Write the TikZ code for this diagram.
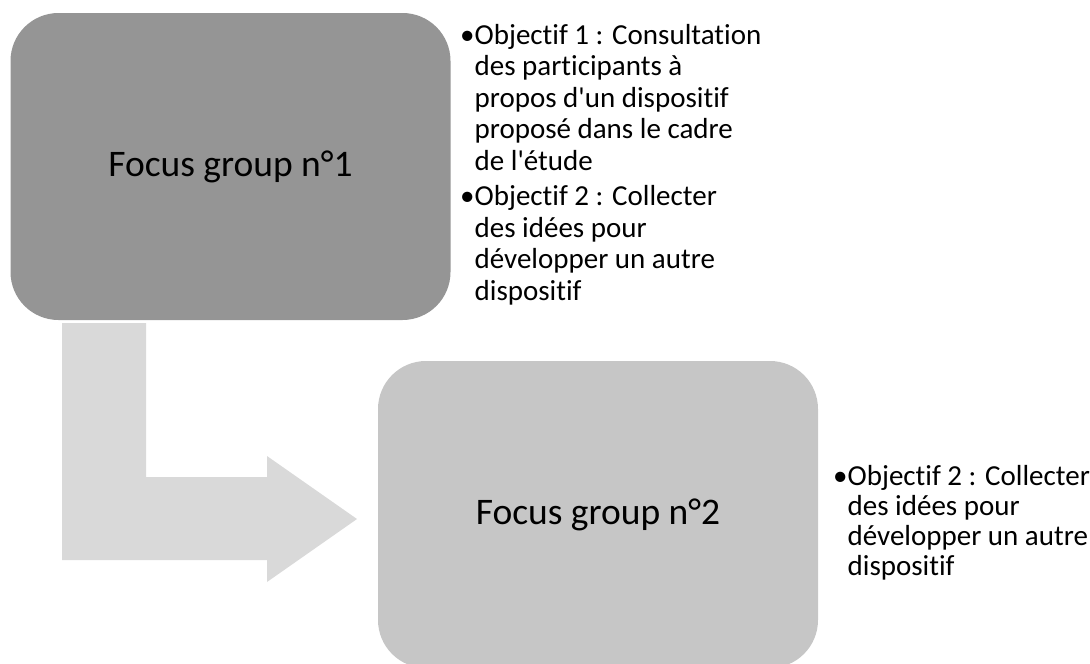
\documentclass[tikz,border=0pt]{standalone}
\usepackage{fontspec}
\setmainfont{Carlito}[Ligatures=NoCommon]
\definecolor{darkbox}{RGB}{149,149,149}
\definecolor{lightbox}{RGB}{198,198,198}
\definecolor{arrowgray}{RGB}{217,217,217}
% straight apostrophe, set as a glyph so no text mapping curls it
\newcommand{\apos}{\XeTeXglyph\XeTeXcharglyph"0027\relax}
\begin{document}
\begin{tikzpicture}[x=1pt,y=-1pt,
  fgbox/.style={rectangle, rounded corners=48pt, minimum width=440pt,
    minimum height=307pt, inner sep=0pt,
    font=\fontsize{37.5}{45}\selectfont},
  objtext/.style={anchor=base west, inner sep=0pt,
    font=\fontsize{29}{30}\selectfont}]
\useasboundingbox (0,0) rectangle (1090,664);

% the two focus-group boxes
\node[fgbox, fill=darkbox] (fg1) at (230.5,166.5) {Focus group n°1};
\node[fgbox, fill=lightbox] (fg2) at (598,514.5) {Focus group n°2};

% bent arrow leading from the first box down to the second
\fill[arrowgray] (62,323) -- (146,323) -- (146,477) -- (267,477)
  -- (267,456) -- (357,519) -- (267,582) -- (267,560) -- (62,560) -- cycle;

% objectives listed beside each box (bullet column + hanging text)
\renewcommand{\arraystretch}{1}
\node[objtext, font=\fontsize{29}{31.5}\selectfont] (obj1) at (460,44)
  {\begin{tabular}[t]{@{}l@{}l@{}}
  • & Objectif 1 : Consultation\\
    & des participants à\\
    & propos d\apos un dispositif\\
    & proposé dans le cadre\\
    & de l\apos étude\\[4pt]
  • & Objectif 2 : Collecter\\
    & des idées pour\\
    & développer un autre\\
    & dispositif
  \end{tabular}};
\node[objtext] (obj2) at (833,485) {\begin{tabular}[t]{@{}l@{}l@{}}
  • & Objectif 2 : Collecter\\
    & des idées pour\\
    & développer un autre\\
    & dispositif
  \end{tabular}};
\end{tikzpicture}
\end{document}
